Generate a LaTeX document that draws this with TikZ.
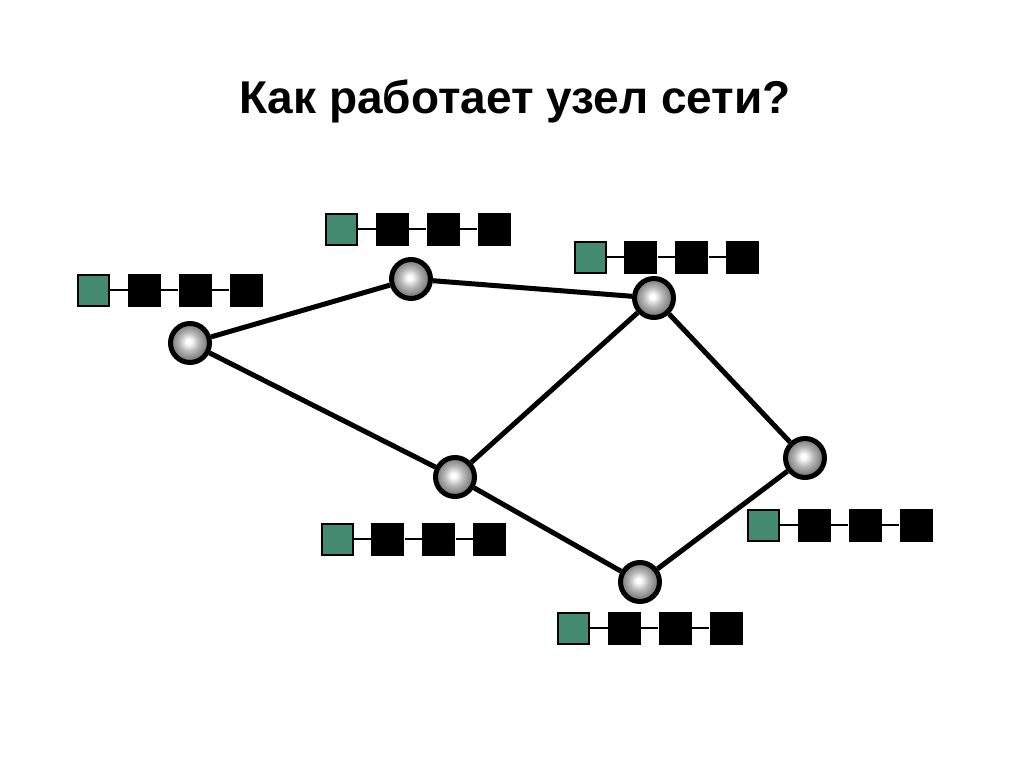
\documentclass[tikz,border=0pt]{standalone}
\usepackage{fontspec}
\setmainfont{Liberation Sans}
\usetikzlibrary{positioning}
\definecolor{qgreen}{RGB}{68,138,112}
\pgfdeclareradialshading{knot}{\pgfpoint{-2bp}{2bp}}{color(0bp)=(white); color(3bp)=(white); color(12bp)=(gray!55); color(22bp)=(gray); color(25bp)=(gray!60!black); color(50bp)=(gray!60!black)}

\begin{document}
\begin{tikzpicture}[x=0.5pt, y=-0.5pt,
    router/.style={circle, draw=black, line width=2.5pt, shading=knot, minimum size=19.5pt, inner sep=0pt},
    head/.style={rectangle, draw=black, line width=1pt, fill=qgreen, minimum size=15.5pt, inner sep=0pt},
    pkt/.style={rectangle, fill=black, minimum size=16.5pt, inner sep=0pt},
    link/.style={line width=2.5pt},
    slot/.style={line width=0.8pt}]
        \fill[white] (0,0) rectangle (1024,767);
        \useasboundingbox (0,0) rectangle (1024,767);
        \node[anchor=base, font=\bfseries\fontsize{23}{28}\selectfont] (title) at (515,113) {Как работает узел сети?};
        % routers
        \node[router] (a) at (190,343) {};
        \node[router] (b) at (411,279) {};
        \node[router] (c) at (654,298) {};
        \node[router] (d) at (455,477) {};
        \node[router] (e) at (805,458) {};
        \node[router] (f) at (640,582) {};
        % queues
        \foreach \q/\x/\y in {1/93.5/290, 2/341.5/229, 3/590/257, 4/337/539, 5/763.5/525, 6/573.5/628} {
          \node[head] (q\q h) at (\x,\y) {};
          \node[pkt, right=8.75pt of q\q h] (q\q a) {};
          \node[pkt, right=8.5pt of q\q a] (q\q b) {};
          \node[pkt, right=8.5pt of q\q b] (q\q c) {};
          \draw[slot] (q\q h) -- (q\q a) -- (q\q b) -- (q\q c);
        }
        % links
        \draw[link] (a) -- (b) -- (c) -- (e) -- (f) -- (d) -- (a);
        \draw[link] (d) -- (c);
\end{tikzpicture}
\end{document}
